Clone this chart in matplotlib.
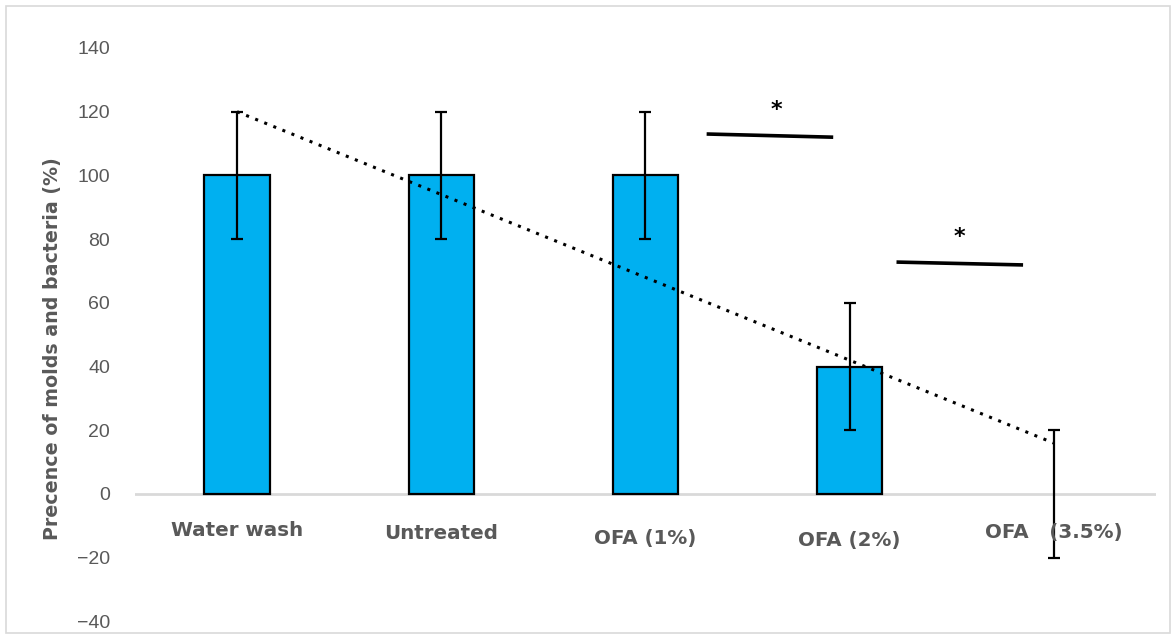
import numpy as np
import matplotlib
matplotlib.use('Agg')
import matplotlib.pyplot as plt
from matplotlib.patches import Rectangle

# Data
categories = ['Water wash', 'Untreated', 'OFA (1%)', 'OFA (2%)', 'OFA   (3.5%)']
presence = [100, 100, 100, 40, 0]
errors = [20, 20, 20, 20, 20]
label_y = [-11.5, -12.5, -14, -14.5, -12]   # category labels sit at slightly uneven heights

# Significance markers: (x start, x end, y start, y end, star x, star y)
sig_lines = [(2.30, 2.92, 113.0, 112.0, 2.64, 120.5),
             (3.23, 3.85, 72.8, 71.9, 3.54, 80.7)]

grey = '#595959'
fig = plt.figure(figsize=(11.76, 6.39), dpi=100)
ax = fig.add_axes([0.1148, 0.0275, 0.868, 0.8974])

x = np.arange(len(categories))
# zero-height bars get no outline
edge_w = [1.6 if v != 0 else 0 for v in presence]
ax.bar(x, presence, width=0.32, color='#00B0F0', edgecolor='black', linewidth=edge_w, zorder=2)
ax.errorbar(x, presence, yerr=errors, fmt='none', ecolor='black', elinewidth=1.6,
            capsize=4.5, capthick=1.6, zorder=3)

# Linear trendline
slope, intercept = np.polyfit(x, presence, 1)
ax.plot(x, slope * x + intercept, color='black', linestyle=(0, (1, 2.2)), linewidth=2.2,
        zorder=4)

ax.axhline(0, color='#d9d9d9', linewidth=2, zorder=1)

for xi, name, ly in zip(x, categories, label_y):
    ax.text(xi, ly, name, ha='center', va='center', fontsize=14.3, fontweight='bold',
            color=grey)

for x0, x1, y0, y1, sx, sy in sig_lines:
    ax.plot([x0, x1], [y0, y1], color='black', linewidth=2.6, solid_capstyle='butt')
    ax.text(sx, sy, '*', ha='center', va='center', fontsize=16, fontweight='bold')

ax.set_xlim(-0.5, 4.5)
ax.set_ylim(-40, 140)
ax.set_yticks(range(-40, 141, 20))
ax.set_yticklabels([str(v) if v >= 0 else '\u2212' + str(-v) for v in range(-40, 141, 20)])
ax.set_xticks([])
ax.tick_params(axis='y', length=0, pad=18, labelsize=14, labelcolor=grey)
for t in ax.get_yticklabels():
    t.set_family(['Liberation Sans', 'DejaVu Sans'])
for s in ax.spines.values():
    s.set_visible(False)

ax.set_ylabel('Precence of molds and bacteria (%)', fontsize=13.7, fontweight='bold',
              color=grey)
ax.yaxis.set_label_coords(-0.072, 0.475)

# light border around the whole chart
fig.patches.append(Rectangle((0.005, 0.01), 0.99, 0.98, transform=fig.transFigure,
                             fill=False, edgecolor='#d9d9d9', linewidth=1.2))

fig.savefig('out.png', dpi=100)
